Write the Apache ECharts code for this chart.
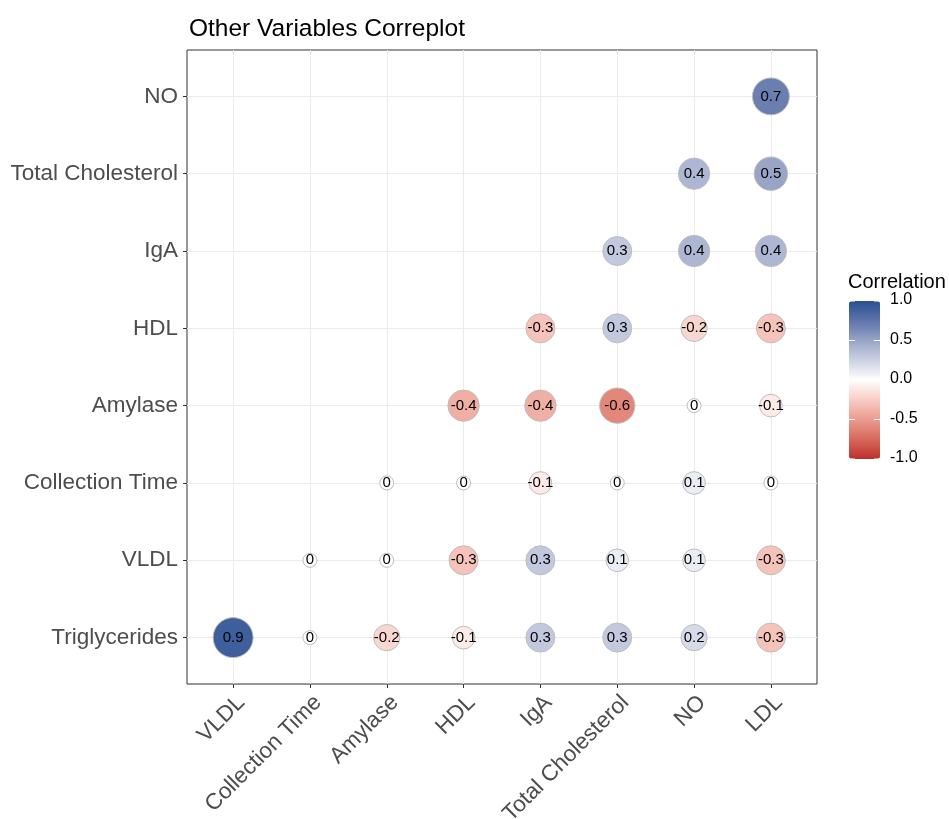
<!DOCTYPE html>
<html>
<head>
<meta charset="utf-8">
<script src="https://cdn.jsdelivr.net/npm/echarts@6/dist/echarts.min.js"></script>
<style>html,body{margin:0;padding:0;background:#fff}#c{width:949px;height:819px}</style>
</head>
<body>
<div id="c"></div>
<script>
// categories
var xCats = ['VLDL', 'Collection Time', 'Amylase', 'HDL', 'IgA', 'Total Cholesterol', 'NO', 'LDL'];
var yCats = ['Triglycerides', 'VLDL', 'Collection Time', 'Amylase', 'HDL', 'IgA', 'Total Cholesterol', 'NO'];
// correlation values, one row per y category (bottom to top), columns follow xCats
var rowTriglycerides    = [0.9, 0, -0.2, -0.1, 0.3, 0.3, 0.2, -0.3];
var rowVLDL             = [null, 0, 0, -0.3, 0.3, 0.1, 0.1, -0.3];
var rowCollectionTime   = [null, null, 0, 0, -0.1, 0, 0.1, 0];
var rowAmylase          = [null, null, null, -0.4, -0.4, -0.6, 0, -0.1];
var rowHDL              = [null, null, null, null, -0.3, 0.3, -0.2, -0.3];
var rowIgA              = [null, null, null, null, null, 0.3, 0.4, 0.4];
var rowTotalCholesterol = [null, null, null, null, null, null, 0.4, 0.5];
var rowNO               = [null, null, null, null, null, null, null, 0.7];
var legendTicks = [1.0, 0.5, 0.0, -0.5, -1.0];

var rows = [rowTriglycerides, rowVLDL, rowCollectionTime, rowAmylase, rowHDL, rowIgA, rowTotalCholesterol, rowNO];
var data = [];
rows.forEach(function (row, yi) {
  row.forEach(function (v, xi) {
    if (v !== null) data.push([xi, yi, v]);
  });
});
var catIdx = xCats.map(function (c, i) { return i; });

var FONT = 'Liberation Sans, Arial, sans-serif';
var barLeft = 849, barTop = 301, barW = 31, barH = 158;

var graphics = [{
  type: 'text', left: 848, top: 272,
  style: { text: 'Correlation', fontSize: 20, fontFamily: FONT, fill: '#000' }
}];
legendTicks.forEach(function (t) {
  var y = barTop + (1 - (t + 1) / 2) * barH;
  graphics.push({
    type: 'text', left: 890, top: y - 9,
    style: { text: t.toFixed(1), fontSize: 16, fontFamily: FONT, fill: '#000' }
  });
  graphics.push({ type: 'line', z: 100, shape: { x1: barLeft, y1: y, x2: barLeft + 6, y2: y }, style: { stroke: '#fff', lineWidth: 1 } });
  graphics.push({ type: 'line', z: 100, shape: { x1: barLeft + barW - 6, y1: y, x2: barLeft + barW, y2: y }, style: { stroke: '#fff', lineWidth: 1 } });
});

var chart = echarts.init(document.getElementById('c'), null, { renderer: 'canvas' });
chart.setOption({
  backgroundColor: '#fff',
  animation: false,
  title: {
    text: 'Other Variables Correplot', left: 184, top: 12,
    textStyle: { fontSize: 24.5, fontWeight: 'normal', color: '#000', fontFamily: FONT }
  },
  grid: {
    left: 187, right: 132, top: 50, bottom: 135,
    outerBoundsMode: 'none', containLabel: false,
    show: true, borderColor: '#333', borderWidth: 1, backgroundColor: '#fff'
  },
  xAxis: {
    type: 'value', min: -0.6, max: 7.6, minInterval: 1, maxInterval: 1,
    axisLine: { show: false, onZero: false },
    axisTick: { show: true, length: 4, lineStyle: { color: '#333' }, customValues: catIdx },
    splitLine: { show: true, lineStyle: { color: '#EBEBEB', width: 1 } },
    axisLabel: {
      rotate: 45, margin: 7, align: 'right', verticalAlign: 'top',
      fontSize: 22.5, color: '#4D4D4D', fontFamily: FONT,
      customValues: catIdx,
      formatter: function (v) { return Math.abs(v - Math.round(v)) < 1e-6 ? (xCats[Math.round(v)] || '') : ''; }
    }
  },
  yAxis: {
    type: 'value', min: -0.6, max: 7.6, minInterval: 1, maxInterval: 1,
    axisLine: { show: false, onZero: false },
    axisTick: { show: true, length: 4, lineStyle: { color: '#333' }, customValues: catIdx },
    splitLine: { show: true, lineStyle: { color: '#EBEBEB', width: 1 } },
    axisLabel: {
      margin: 9, fontSize: 22.5, color: '#4D4D4D', fontFamily: FONT,
      customValues: catIdx,
      formatter: function (v) { return Math.abs(v - Math.round(v)) < 1e-6 ? (yCats[Math.round(v)] || '') : ''; }
    }
  },
  visualMap: {
    type: 'continuous', min: -1, max: 1, dimension: 2, calculable: false,
    itemWidth: barW, itemHeight: barH, left: barLeft, top: barTop, padding: 0,
    text: null, showLabel: false, hoverLink: false,
    inRange: { color: ['#BE2F2B', '#D6695B', '#EA9B8F', '#F8CDC5', '#FFFFFF', '#CCD1E3', '#99A4C7', '#5E74AA', '#285092'] },
    textStyle: { color: 'transparent' },
    seriesIndex: 0
  },
  graphic: graphics,
  series: [{
    type: 'scatter',
    data: data,
    symbol: 'circle',
    symbolSize: function (d) { return 14 + 26 * Math.sqrt(Math.abs(d[2]) / 0.9); },
    itemStyle: { borderColor: '#BEBEBE', borderWidth: 1, opacity: 1 },
    label: {
      show: true, position: 'inside', color: '#000', fontSize: 15, fontFamily: FONT,
      formatter: function (p) { return String(p.data[2]); }
    },
    emphasis: { disabled: true }
  }]
});
</script>
</body>
</html>
